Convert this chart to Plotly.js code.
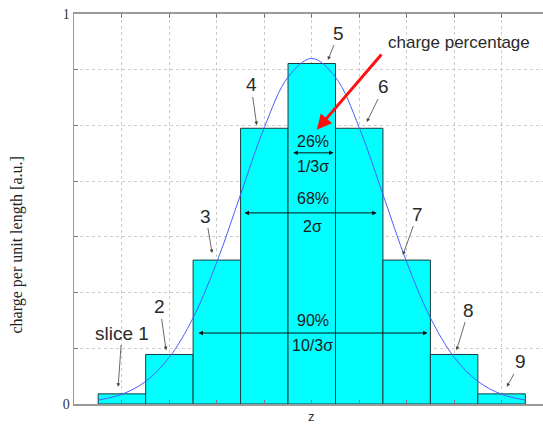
<!DOCTYPE html>
<html>
<head>
<meta charset="utf-8">
<script src="https://cdn.plot.ly/plotly-3.0.1.min.js"></script>
<style>
  html, body { margin: 0; padding: 0; background: #fff; overflow: hidden; }
  #chart { width: 600px; height: 426px; }
</style>
</head>
<body>
<div id="chart"></div>
<script>
// Slice index along z and the charge carried per unit length in each slice
const slices = [1, 2, 3, 4, 5, 6, 7, 8, 9];
const sliceCharge = [0.026, 0.127, 0.369, 0.707, 0.873, 0.707, 0.369, 0.127, 0.026];

// Continuous bunch profile sampled along z
const profileZ = [0.5, 1, 1.5, 2, 2.5, 3, 3.5, 4, 4.5, 5, 5.5, 6, 6.5, 7, 7.5, 8, 8.5, 9, 9.5];
const profileQ = [0.010, 0.025, 0.058, 0.120, 0.221, 0.364, 0.537, 0.709, 0.838, 0.886,
                  0.838, 0.709, 0.537, 0.364, 0.221, 0.120, 0.058, 0.025, 0.010];

// Slice labels: text anchor and arrow tip
const sliceLabels = ['slice 1', '2', '3', '4', '5', '6', '7', '8', '9'];
const labelX = [1.00, 1.80, 2.77, 3.72, 5.57, 6.52, 7.23, 8.31, 9.40];
const labelY = [0.182, 0.249, 0.482, 0.818, 0.951, 0.813, 0.487, 0.241, 0.108];
const tipX = [0.92, 1.93, 2.90, 3.84, 5.34, 6.16, 6.92, 8.05, 9.11];
const tipY = [0.044, 0.138, 0.387, 0.715, 0.882, 0.723, 0.382, 0.138, 0.044];

// Charge fractions and the widths they span
const fractionText = ['26%', '68%', '90%'];
const widthText = ['1/3σ', '2σ', '10/3σ'];
const spanLeft = [4.58, 3.55, 2.58];
const spanRight = [5.46, 6.37, 7.44];
const spanY = [0.644, 0.490, 0.182];
const fractionY = [0.672, 0.528, 0.215];
const widthY = [0.608, 0.454, 0.151];
const spanCenter = 5.02;

const yGrid = [0, 1/7, 2/7, 3/7, 4/7, 5/7, 6/7, 1];
const yGridText = ['0', '', '', '', '', '', '', '1'];

const sans = 'Liberation Sans, Arial, sans-serif';
const serif = 'Liberation Serif, Times New Roman, serif';

const traces = [
  {
    type: 'bar', x: slices, y: sliceCharge, width: 1,
    marker: { color: '#00ffff', line: { color: '#1c3c3c', width: 1 } },
    hoverinfo: 'skip'
  },
  {
    type: 'scatter', mode: 'lines', x: profileZ, y: profileQ,
    line: { color: '#4a5cff', width: 1, shape: 'spline' },
    hoverinfo: 'skip'
  }
];

const annotations = [];
sliceLabels.forEach((t, i) => {
  annotations.push({
    text: t, x: tipX[i], y: tipY[i], ax: labelX[i], ay: labelY[i],
    xref: 'x', yref: 'y', axref: 'x', ayref: 'y',
    showarrow: true, arrowhead: 2, arrowsize: 0.9, arrowwidth: 0.8, arrowcolor: '#444',
    font: { family: sans, size: 19, color: '#2a2a2a' }
  });
});
fractionText.forEach((t, i) => {
  annotations.push({
    text: t, x: spanCenter, y: fractionY[i], xref: 'x', yref: 'y', showarrow: false,
    font: { family: sans, size: 16, color: '#1a1a1a' }
  });
  annotations.push({
    text: widthText[i], x: spanCenter, y: widthY[i], xref: 'x', yref: 'y', showarrow: false,
    font: { family: sans, size: 16, color: '#1a1a1a' }
  });
  annotations.push({
    text: '', x: spanRight[i], y: spanY[i], ax: spanLeft[i], ay: spanY[i],
    xref: 'x', yref: 'y', axref: 'x', ayref: 'y',
    showarrow: true, arrowside: 'end+start', arrowhead: 2, arrowsize: 0.9,
    arrowwidth: 1, arrowcolor: '#111'
  });
});
annotations.push({
  text: 'charge percentage', x: 8.10, y: 0.926, xref: 'x', yref: 'y', showarrow: false,
  font: { family: sans, size: 17, color: '#2a2a2a' }
});
annotations.push({
  text: '', x: 5.105, y: 0.703, ax: 6.495, ay: 0.900,
  xref: 'x', yref: 'y', axref: 'x', ayref: 'y',
  showarrow: true, arrowhead: 2, arrowsize: 1, arrowwidth: 3, arrowcolor: '#ff1010'
});
// Axis titles
annotations.push({
  text: 'charge per unit length [a.u.]', textangle: -90,
  xref: 'paper', yref: 'paper', x: -0.109, y: 0.408, xanchor: 'center', yanchor: 'middle',
  showarrow: false, font: { family: serif, size: 16, color: '#222' }
});
annotations.push({
  text: 'z', xref: 'x', yref: 'paper', x: 5, y: -0.032, yanchor: 'middle',
  showarrow: false, font: { family: sans, size: 13, color: '#333' }
});

const layout = {
  width: 600, height: 426,
  margin: { l: 74, r: 0, t: 14, b: 22 },
  paper_bgcolor: '#fff', plot_bgcolor: '#fff',
  showlegend: false, bargap: 0,
  xaxis: {
    range: [-0.01, (600 - 74) / 47.5], dtick: 1, tick0: 0,
    showticklabels: false, ticks: 'inside', ticklen: 4, tickcolor: '#777',
    showgrid: true, gridcolor: '#cccccc', griddash: 'dot', gridwidth: 1,
    showline: true, linecolor: '#9a9a9a', linewidth: 2, mirror: 'allticks',
    zeroline: false
  },
  yaxis: {
    range: [0, 1], tickmode: 'array', tickvals: yGrid, ticktext: yGridText,
    ticks: 'inside', ticklen: 4, tickcolor: '#777',
    tickfont: { family: serif, size: 14, color: '#333' },
    showgrid: true, gridcolor: '#cccccc', griddash: 'dot', gridwidth: 1,
    showline: true, linecolor: '#9a9a9a', linewidth: 1.5, mirror: 'allticks',
    zeroline: false
  },
  annotations: annotations
};

Plotly.newPlot('chart', traces, layout, { staticPlot: true, displayModeBar: false });
</script>
</body>
</html>
